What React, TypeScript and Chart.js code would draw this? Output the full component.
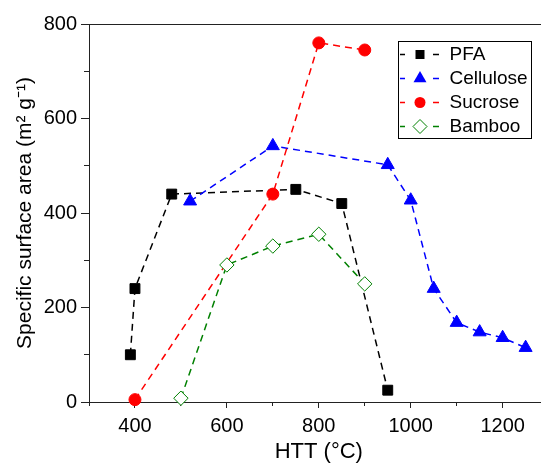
import React, { useEffect, useRef } from 'react';
import { Chart, registerables } from 'chart.js';

Chart.register(...registerables);

// ---- data ----
const seriesNames = ['PFA', 'Cellulose', 'Sucrose', 'Bamboo'];

const pfaX = [390, 400, 480, 750, 850, 950];
const pfaY = [100, 240, 440, 450, 420, 25];

const celluloseX = [520, 700, 950, 1000, 1050, 1100, 1150, 1200, 1250];
const celluloseY = [425, 542, 502, 427, 240, 168, 148, 136, 115];

const sucroseX = [400, 700, 800, 900];
const sucroseY = [5, 440, 760, 745];

const bambooX = [500, 600, 700, 800, 900];
const bambooY = [8, 290, 330, 355, 250];

const xTickLabels = [400, 600, 800, 1000, 1200];
const yTickLabels = [0, 200, 400, 600, 800];

const xTitle = 'HTT (°C)';
const yTitle = 'Specific surface area (m² g⁻¹)';

const FONT = "'Liberation Sans', Arial, sans-serif";
const AXIS_COLOR = '#222';

function pts(xs: number[], ys: number[]) {
  return xs.map((x, i) => ({ x, y: ys[i] }));
}

function makeIcon(color: string, shape: string, filled: boolean) {
  const c = document.createElement('canvas');
  c.width = 40;
  c.height = 19;
  const g = c.getContext('2d')!;
  const cy = 9.5;
  const cx = 20;
  g.strokeStyle = color;
  g.lineWidth = 1.5;
  g.beginPath();
  g.moveTo(0, cy);
  g.lineTo(5, cy);
  g.moveTo(33, cy);
  g.lineTo(39, cy);
  g.stroke();
  g.beginPath();
  if (shape === 'rect') {
    g.rect(cx - 4.5, cy - 4.5, 9, 9);
  } else if (shape === 'triangle') {
    const r = 7.5;
    g.moveTo(cx, cy - r);
    g.lineTo(cx + r * 0.866, cy + r / 2);
    g.lineTo(cx - r * 0.866, cy + r / 2);
    g.closePath();
  } else if (shape === 'circle') {
    g.arc(cx, cy, 5.5, 0, Math.PI * 2);
  } else {
    const r = 7;
    g.moveTo(cx - r, cy);
    g.lineTo(cx, cy - r);
    g.lineTo(cx + r, cy);
    g.lineTo(cx, cy + r);
    g.closePath();
  }
  if (filled) {
    g.fillStyle = color;
    g.fill();
  } else {
    g.fillStyle = '#fff';
    g.fill();
    g.lineWidth = 1;
    g.strokeStyle = color;
    g.stroke();
  }
  return c;
}

const legendPlugin = {
  id: 'legendPlace',
  afterLayout(chart: any) {
    const lg = chart.legend;
    if (!lg) return;
    const a = chart.chartArea;
    lg.left = a.left + 306;
    lg.top = a.top + 16;
  },
  afterDraw(chart: any) {
    const lg = chart.legend;
    if (!lg) return;
    const ctx = chart.ctx;
    ctx.save();
    ctx.strokeStyle = '#000';
    ctx.lineWidth = 1;
    ctx.setLineDash([]);
    ctx.strokeRect(lg.left + 3.5, lg.top + 1.5, 133, 97);
    ctx.restore();
  },
};

export default function App() {
  const ref = useRef<HTMLCanvasElement>(null);

  useEffect(() => {
    if (!ref.current) return;
    const colors = ['#000000', '#0000ff', '#ff0000', '#008000'];
    const shapes = ['rect', 'triangle', 'circle', 'rectRot'];
    const filled = [true, true, true, false];
    const radii = [7, 7.5, 6, 7.2];
    const data = [pts(pfaX, pfaY), pts(celluloseX, celluloseY), pts(sucroseX, sucroseY), pts(bambooX, bambooY)];
    const icons = seriesNames.map((_, i) => makeIcon(colors[i], shapes[i], filled[i]));

    const datasets = seriesNames.map((name, i) => ({
      label: name,
      data: data[i],
      showLine: true,
      borderColor: colors[i],
      borderWidth: 1.5,
      borderDash: [7, 5],
      tension: 0,
      fill: false,
      pointStyle: shapes[i],
      pointRadius: radii[i],
      pointBackgroundColor: filled[i] ? colors[i] : '#ffffff',
      pointBorderColor: colors[i],
      pointBorderWidth: 1,
      clip: false as any,
      order: 4 - i,
    }));

    const minorDashLeft = (ctx: any) => (ctx.tick && yTickLabels.includes(ctx.tick.value) ? [] : [0, 3, 5, 100]);
    const minorDashBottom = (ctx: any) => (ctx.tick && xTickLabels.includes(ctx.tick.value) ? [] : [3, 100]);

    const chart = new Chart(ref.current, {
      type: 'scatter',
      data: { datasets: datasets as any },
      plugins: [legendPlugin],
      options: {
        responsive: false,
        animation: false,
        events: [],
        layout: { padding: { left: 0, top: 0, bottom: 0, right: 11.4 } },
        plugins: {
          tooltip: { enabled: false },
          legend: {
            display: true,
            position: 'chartArea' as any,
            align: 'start',
            labels: {
              usePointStyle: true,
              pointStyleWidth: 40,
              padding: 5,
              color: '#000',
              font: { family: FONT, size: 19 },
              generateLabels: () =>
                seriesNames.map((name, i) => ({
                  text: name,
                  pointStyle: icons[i] as any,
                  fillStyle: 'transparent',
                  strokeStyle: 'transparent',
                  lineWidth: 0,
                  hidden: false,
                  datasetIndex: i,
                  fontColor: '#000',
                })),
            },
          },
        },
        scales: {
          x: {
            type: 'linear',
            position: 'bottom',
            min: 300,
            max: 1300,
            afterFit: (s: any) => {
              s.height = 63;
            },
            border: { display: true, color: AXIS_COLOR, width: 1 },
            grid: {
              drawOnChartArea: false,
              drawTicks: true,
              tickLength: 6,
              tickColor: AXIS_COLOR,
              tickWidth: 1,
              tickBorderDash: minorDashBottom as any,
            },
            ticks: {
              stepSize: 100,
              autoSkip: false,
              maxRotation: 0,
              padding: 6,
              color: '#000',
              font: { family: FONT, size: 20 },
              callback: (v: any) => (xTickLabels.includes(Number(v)) ? String(v) : ''),
            },
            title: {
              display: true,
              text: xTitle,
              color: '#000',
              font: { family: FONT, size: 22 },
              padding: { top: 0, bottom: 0 },
            },
          },
          xTop: {
            type: 'linear',
            position: 'top',
            min: 300,
            max: 1300,
            afterFit: (s: any) => {
              s.height = 24;
            },
            border: { display: true, color: AXIS_COLOR, width: 1 },
            grid: { display: false, drawOnChartArea: false, drawTicks: false },
            ticks: { display: false },
          },
          y: {
            type: 'linear',
            position: 'left',
            min: 0,
            max: 800,
            afterFit: (s: any) => {
              s.width = 89;
            },
            border: { display: true, color: AXIS_COLOR, width: 1 },
            grid: {
              drawOnChartArea: false,
              drawTicks: true,
              tickLength: 8,
              tickColor: AXIS_COLOR,
              tickWidth: 1,
              tickBorderDash: minorDashLeft as any,
            },
            ticks: {
              stepSize: 100,
              autoSkip: false,
              padding: 4,
              color: '#000',
              font: { family: FONT, size: 20 },
              callback: (v: any) => (yTickLabels.includes(Number(v)) ? String(v) : ''),
            },
            title: {
              display: true,
              text: yTitle,
              color: '#000',
              font: { family: FONT, size: 21 },
              padding: { top: 13, bottom: 0 },
            },
          },
        },
      },
    });
    return () => chart.destroy();
  }, []);

  return (
    <div style={{ position: 'fixed', left: 0, top: 0, width: 560, height: 465, overflow: 'hidden', background: '#fff' }}>
      <canvas ref={ref} width={560} height={465} style={{ display: 'block', width: 560, height: 465 }} />
    </div>
  );
}
